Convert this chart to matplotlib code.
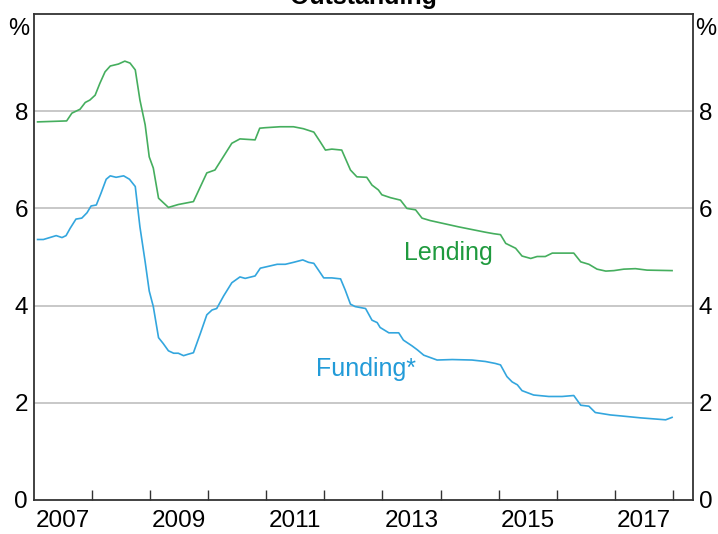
import numpy as np
import matplotlib
matplotlib.use("Agg")
import matplotlib.pyplot as plt
from matplotlib.ticker import FixedLocator, NullFormatter
import matplotlib.transforms as mtransforms

plt.rcParams['font.family'] = ['Liberation Sans', 'DejaVu Sans']

# Lending rate (outstanding), % -- decimal years
lend_t = [2007.07, 2007.57, 2007.66, 2007.80, 2007.89, 2007.97, 2008.06, 2008.14, 2008.23,
          2008.32, 2008.46, 2008.57, 2008.66, 2008.75, 2008.83, 2008.92, 2008.99, 2009.06,
          2009.15, 2009.32, 2009.49, 2009.75, 2009.98, 2010.12, 2010.41, 2010.55, 2010.81,
          2010.89, 2010.98, 2011.24, 2011.47, 2011.64, 2011.82, 2011.93, 2012.02, 2012.13,
          2012.30, 2012.45, 2012.56, 2012.73, 2012.82, 2012.93, 2012.99, 2013.14, 2013.31,
          2013.42, 2013.57, 2013.68, 2013.82, 2014.31, 2014.77, 2014.91, 2015.03, 2015.12,
          2015.29, 2015.40, 2015.55, 2015.66, 2015.80, 2015.92, 2016.29, 2016.41, 2016.55,
          2016.69, 2016.84, 2016.98, 2017.15, 2017.35, 2017.55, 2017.98]
lend_v = [7.78, 7.80, 7.96, 8.04, 8.18, 8.23, 8.33, 8.57, 8.81,
          8.93, 8.97, 9.03, 8.99, 8.85, 8.23, 7.72, 7.06, 6.83,
          6.21, 6.02, 6.08, 6.14, 6.73, 6.79, 7.34, 7.43, 7.41,
          7.65, 7.66, 7.68, 7.68, 7.64, 7.57, 7.37, 7.20, 7.22,
          7.20, 6.79, 6.65, 6.64, 6.48, 6.38, 6.28, 6.22, 6.17,
          6.00, 5.97, 5.80, 5.75, 5.62, 5.51, 5.48, 5.46, 5.28,
          5.18, 5.02, 4.97, 5.01, 5.01, 5.08, 5.08, 4.90, 4.85,
          4.75, 4.71, 4.72, 4.75, 4.76, 4.73, 4.72]

# Funding cost (outstanding), %
fund_t = [2007.07, 2007.17, 2007.28, 2007.39, 2007.49, 2007.56, 2007.63, 2007.73, 2007.83,
          2007.92, 2007.99, 2008.08, 2008.16, 2008.25, 2008.32, 2008.42, 2008.55, 2008.65,
          2008.75, 2008.83, 2008.92, 2008.99, 2009.06, 2009.15, 2009.23, 2009.32, 2009.41,
          2009.49, 2009.58, 2009.66, 2009.75, 2009.87, 2009.98, 2010.07, 2010.15, 2010.27,
          2010.41, 2010.55, 2010.64, 2010.81, 2010.90, 2011.01, 2011.19, 2011.33, 2011.47,
          2011.63, 2011.73, 2011.82, 2011.90, 2011.99, 2012.13, 2012.28, 2012.36, 2012.45,
          2012.53, 2012.71, 2012.82, 2012.91, 2012.96, 2013.11, 2013.28, 2013.36, 2013.51,
          2013.60, 2013.71, 2013.94, 2014.20, 2014.54, 2014.77, 2014.94, 2015.03, 2015.14,
          2015.23, 2015.32, 2015.40, 2015.60, 2015.86, 2016.09, 2016.29, 2016.41, 2016.55,
          2016.66, 2016.92, 2017.10, 2017.44, 2017.87, 2017.98]
fund_v = [5.36, 5.36, 5.40, 5.44, 5.40, 5.44, 5.59, 5.78, 5.80,
          5.91, 6.05, 6.07, 6.31, 6.60, 6.67, 6.64, 6.67, 6.60,
          6.45, 5.62, 4.90, 4.30, 3.98, 3.34, 3.22, 3.07, 3.02,
          3.02, 2.97, 3.00, 3.03, 3.43, 3.81, 3.91, 3.94, 4.20,
          4.47, 4.59, 4.56, 4.61, 4.77, 4.80, 4.85, 4.85, 4.89,
          4.94, 4.89, 4.87, 4.73, 4.57, 4.57, 4.55, 4.32, 4.03,
          3.98, 3.94, 3.70, 3.65, 3.55, 3.44, 3.44, 3.29, 3.17,
          3.09, 2.98, 2.88, 2.89, 2.88, 2.85, 2.81, 2.78, 2.54,
          2.43, 2.37, 2.25, 2.16, 2.13, 2.13, 2.15, 1.95, 1.93,
          1.80, 1.75, 1.73, 1.69, 1.65, 1.70]

year_labels = ['2007', '2009', '2011', '2013', '2015', '2017']
y_ticks = [0, 2, 4, 6, 8]

green_line = '#45ae5e'
green_text = '#1f9a3e'
blue_line = '#33a6de'
blue_text = '#229bd8'

fig = plt.figure(figsize=(7.18, 5.34), dpi=100)
ax = fig.add_axes([33.5 / 718, 1 - 500 / 534, (693 - 33.5) / 718, (500 - 14) / 534])

ax.plot(lend_t, lend_v, color=green_line, lw=1.2)
ax.plot(fund_t, fund_v, color=blue_line, lw=1.2)

ax.set_xlim(2007.0, 2018.34)
ax.set_ylim(0, 10)

# gridlines
for v in [2, 4, 6, 8]:
    ax.axhline(v, color='#c4c4c4', lw=1.3, zorder=0)

# x ticks: year boundaries, labels mid-year
ax.xaxis.set_major_locator(FixedLocator(np.arange(2008, 2019)))
ax.xaxis.set_major_formatter(NullFormatter())
ax.xaxis.set_minor_locator(FixedLocator([int(y) + 0.5 for y in year_labels]))
ax.set_xticklabels(year_labels, minor=True)
ax.tick_params(axis='x', which='major', direction='in', length=7, width=1, color='#333333')
ax.tick_params(axis='x', which='minor', length=0, pad=7, labelsize=17.5)

ax.set_yticks(y_ticks)
ax.tick_params(axis='y', length=0, pad=4, labelsize=17.5, labelright=True)

for s in ax.spines.values():
    s.set_color('#333333')
    s.set_linewidth(1.3)

off = mtransforms.offset_copy(ax.transAxes, fig=fig, x=0, y=-3, units='points')
ax.text(-0.006, 1.0, '%', transform=off, ha='right', va='top', fontsize=17)
ax.text(1.003, 1.0, '%', transform=off, ha='left', va='top', fontsize=17)

ax.text(2014.13, 5.08, 'Lending', color=green_text, fontsize=18, ha='center', va='center')
ax.text(2012.72, 2.7, 'Funding*', color=blue_text, fontsize=18, ha='center', va='center')

fig.text(363 / 718, 1 - 4 / 534, 'Outstanding', ha='center', va='baseline',
         fontsize=18, fontweight='bold')

fig.savefig('out.png', dpi=100)
